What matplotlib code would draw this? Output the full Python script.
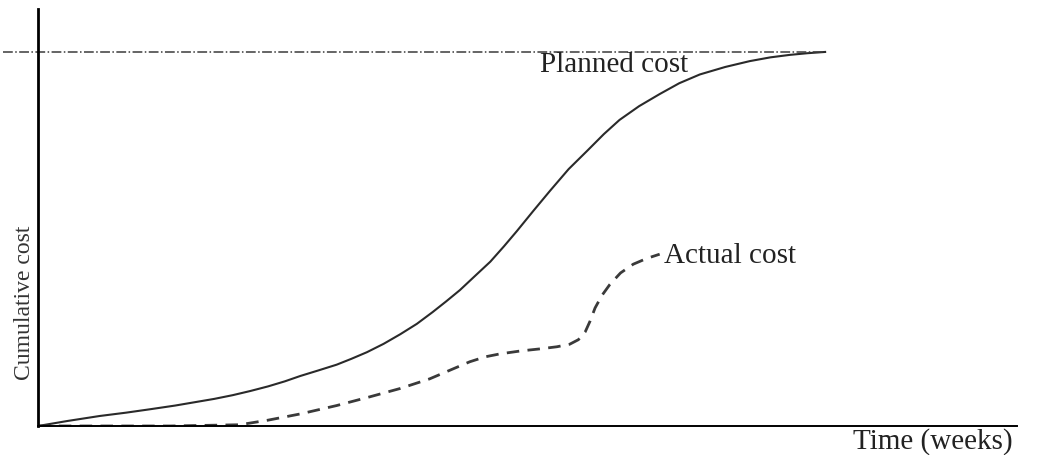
import matplotlib.pyplot as plt
import numpy as np

# planned (S-curve) cumulative cost
planned_weeks = [0, 3, 6.3, 9, 11.4, 14, 16, 18, 19.9, 21.7, 23.5, 25.2, 26.8, 28.6, 30.5, 32,
                 33.6, 35.3, 37, 38.7, 40.3, 41.7, 43.1, 44.6, 46.2, 47.6, 48.9, 50.6, 52.3,
                 54.2, 56.1, 57.8, 59.4, 61.4, 63.5, 65.5, 67.6, 70.2, 72.7, 74.8, 76.8, 78.6,
                 80.4]
planned_cost = [0, 1.2, 2.4, 3.2, 4.0, 4.9, 5.7, 6.5, 7.4, 8.4, 9.5, 10.7, 12.0, 13.3, 14.7, 16.1,
                17.7, 19.7, 22.0, 24.5, 27.3, 29.9, 32.6, 35.9, 39.4, 43.1, 46.7, 51.6, 56.4,
                61.6, 66.0, 70.0, 73.4, 76.7, 79.6, 82.2, 84.3, 86.1, 87.5, 88.4, 89.0, 89.4,
                89.7]

# actual cumulative cost
actual_weeks = [0, 6.3, 13.5, 20.6, 23.5, 26.8, 30.5, 33.9, 37, 40.0, 42, 44.1, 45.7, 47.2,
                49.3, 51.3, 53, 54.3, 55.2, 55.9, 56.4, 56.9, 57.6, 58.4, 59.5, 60.8, 62.2,
                63.5]
actual_cost = [0, 0, 0, 0.3, 1.4, 2.9, 4.9, 7.0, 9.0, 11.3, 13.3, 15.4, 16.6, 17.3, 18.0, 18.5,
               19.0, 19.6, 20.7, 22.6, 25.2, 28.3, 31.3, 33.9, 36.7, 38.8, 40.2, 41.2]

budget = 89.7
serif = ['Liberation Serif', 'DejaVu Serif']

fig = plt.figure(figsize=(10.52, 4.56), dpi=100)
ax = fig.add_axes([38 / 1052, 29 / 456, 979 / 1052, 417 / 456])

ax.plot(planned_weeks, planned_cost, color='#2a2a2a', lw=1.5)
ax.plot(actual_weeks, actual_cost, color='#3a3a3a', lw=2.0, ls=(0, (4.5, 3)))
ax.plot([-3.6, 80.4], [budget, budget], color='#3a3a3a', lw=1.1, ls='-.', clip_on=False)

ax.set_xlim(0, 100)
ax.set_ylim(0, 100)
ax.spines['top'].set_visible(False)
ax.spines['right'].set_visible(False)
ax.spines['left'].set_linewidth(2.0)
ax.spines['bottom'].set_linewidth(1.4)
ax.set_xticks([])
ax.set_yticks([])

ax.text(58.8, 86.8, 'Planned cost', family=serif, fontsize=21, color='#222222',
        ha='center', va='center')
ax.text(63.9, 41.0, 'Actual cost', family=serif, fontsize=21, color='#222222',
        ha='left', va='center')
ax.text(83.2, -3.4, 'Time (weeks)', family=serif, fontsize=21, color='#222222',
        ha='left', va='center', clip_on=False)
ax.set_ylabel('Cumulative cost', family=serif, fontsize=17, color='#333333')
ax.yaxis.set_label_coords(-3 / 979, 124 / 417)

fig.savefig('out.png', dpi=100)
